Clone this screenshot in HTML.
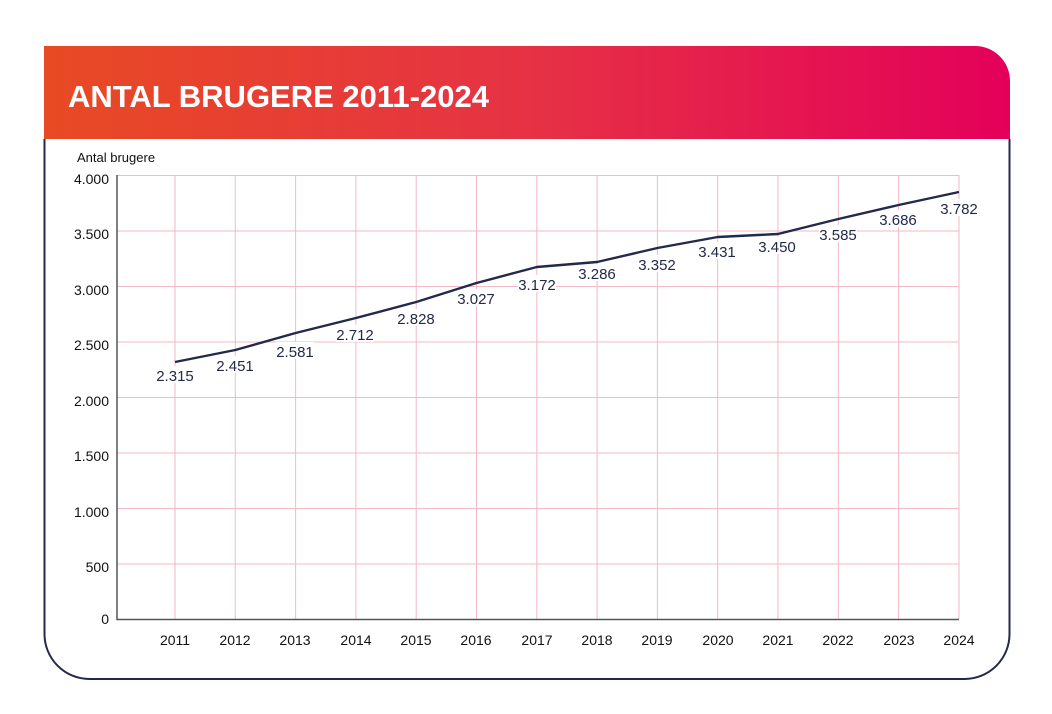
<!DOCTYPE html>
<html><head><meta charset="utf-8"><style>
html,body{margin:0;padding:0;background:#fff;}
body{width:1052px;height:714px;position:relative;overflow:hidden;font-family:"Liberation Sans",Arial,sans-serif;}
</style></head><body>
<svg width="1052" height="714" viewBox="0 0 1052 714" xmlns="http://www.w3.org/2000/svg" style="position:absolute;left:0;top:0">
<defs>
<linearGradient id="g" x1="0" x2="1" y1="0" y2="0">
<stop offset="0" stop-color="#e84a24"/>
<stop offset="0.5" stop-color="#e63244"/>
<stop offset="1" stop-color="#e4005a"/>
</linearGradient>
</defs>
<path d="M44.5 139 V634 A45 45 0 0 0 89.5 679 H964.5 A45 45 0 0 0 1009.5 634 V139" fill="none" stroke="#23294a" stroke-width="2"/>
<path d="M44 46 H975 A35 35 0 0 1 1010 81 V139 H44 Z" fill="url(#g)"/>
<text x="68" y="107" font-size="31" font-weight="bold" fill="#fff">ANTAL BRUGERE 2011-2024</text>
<text x="77" y="162" font-size="13" fill="#111">Antal brugere</text>
<g stroke="#f2b9c6" stroke-width="1">
<line x1="117" x2="959" y1="175.5" y2="175.5"/>
<line x1="117" x2="959" y1="231" y2="231"/>
<line x1="117" x2="959" y1="286.5" y2="286.5"/>
<line x1="117" x2="959" y1="342" y2="342"/>
<line x1="117" x2="959" y1="397.5" y2="397.5"/>
<line x1="117" x2="959" y1="453" y2="453"/>
<line x1="117" x2="959" y1="508.5" y2="508.5"/>
<line x1="117" x2="959" y1="564" y2="564"/>
<line x1="175" x2="175" y1="175" y2="619"/><line x1="235.3" x2="235.3" y1="175" y2="619"/>
<line x1="295.6" x2="295.6" y1="175" y2="619"/><line x1="355.9" x2="355.9" y1="175" y2="619"/>
<line x1="416.2" x2="416.2" y1="175" y2="619"/><line x1="476.5" x2="476.5" y1="175" y2="619"/>
<line x1="536.8" x2="536.8" y1="175" y2="619"/><line x1="597.1" x2="597.1" y1="175" y2="619"/>
<line x1="657.4" x2="657.4" y1="175" y2="619"/><line x1="717.7" x2="717.7" y1="175" y2="619"/>
<line x1="778" x2="778" y1="175" y2="619"/><line x1="838.3" x2="838.3" y1="175" y2="619"/>
<line x1="898.6" x2="898.6" y1="175" y2="619"/><line x1="959" x2="959" y1="175" y2="619"/>
</g>
<path d="M117 175 V619.5 H959" fill="none" stroke="#555" stroke-width="1.5"/>
<g font-size="14" fill="#111" text-anchor="end">
<text x="109" y="184">4.000</text><text x="109" y="239">3.500</text><text x="109" y="295">3.000</text>
<text x="109" y="350">2.500</text><text x="109" y="406">2.000</text><text x="109" y="461">1.500</text>
<text x="109" y="517">1.000</text><text x="109" y="572">500</text><text x="109" y="624">0</text>
</g>
<g font-size="14" fill="#111" text-anchor="middle">
<text x="175" y="645">2011</text><text x="235" y="645">2012</text><text x="295" y="645">2013</text>
<text x="356" y="645">2014</text><text x="416" y="645">2015</text><text x="476" y="645">2016</text>
<text x="537" y="645">2017</text><text x="597" y="645">2018</text><text x="657" y="645">2019</text>
<text x="718" y="645">2020</text><text x="778" y="645">2021</text><text x="838" y="645">2022</text>
<text x="899" y="645">2023</text><text x="959" y="645">2024</text>
</g>
<g fill="#fff"><rect x="156" y="366" width="38" height="17"/><rect x="216" y="356" width="38" height="17"/><rect x="276" y="342" width="38" height="17"/><rect x="336" y="325" width="38" height="17"/><rect x="397" y="309" width="38" height="17"/><rect x="457" y="289" width="38" height="17"/><rect x="518" y="275" width="38" height="17"/><rect x="578" y="264" width="38" height="17"/><rect x="638" y="255" width="38" height="17"/><rect x="698" y="242" width="38" height="17"/><rect x="758" y="237" width="38" height="17"/><rect x="819" y="225" width="38" height="17"/><rect x="879" y="210" width="38" height="17"/><rect x="940" y="199" width="38" height="17"/></g>
<polyline fill="none" stroke="#23294a" stroke-width="2.4" stroke-linejoin="round" points="175,362 235.3,350 295.6,333 355.9,318 416.2,302 476.5,283 536.8,267 597.1,262 657.4,248 717.7,237 778,234 838.3,219 898.6,205 959,192"/>
<g font-size="15" fill="#23294a" text-anchor="middle">
<text x="175" y="381">2.315</text><text x="235" y="371">2.451</text><text x="295" y="357">2.581</text>
<text x="355" y="340">2.712</text><text x="416" y="324">2.828</text><text x="476" y="304">3.027</text>
<text x="537" y="290">3.172</text><text x="597" y="279">3.286</text><text x="657" y="270">3.352</text>
<text x="717" y="257">3.431</text><text x="777" y="252">3.450</text><text x="838" y="240">3.585</text>
<text x="898" y="225">3.686</text><text x="959" y="214">3.782</text>
</g>
</svg>
</body></html>
